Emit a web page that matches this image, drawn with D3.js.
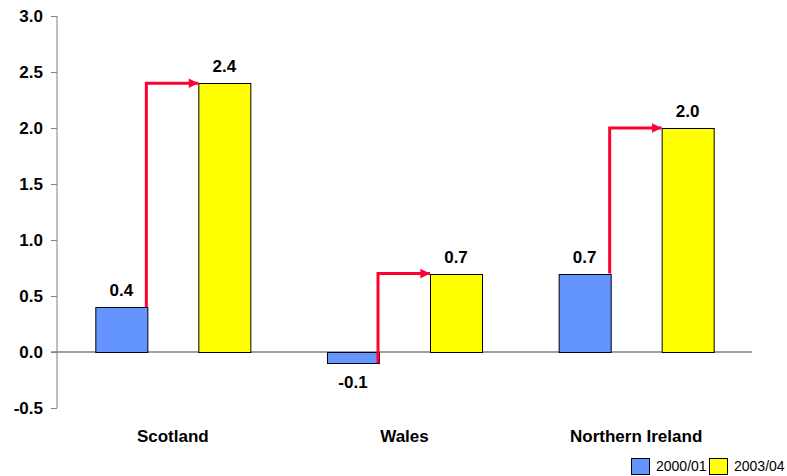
<!DOCTYPE html>
<html>
<head>
<meta charset="utf-8">
<script src="https://cdn.jsdelivr.net/npm/d3@7"></script>
<style>
  body { margin: 0; background: #fff; }
  svg { display: block; font-family: "Liberation Sans", Arial, sans-serif; }
</style>
</head>
<body>
<div id="chart"></div>
<script>
// chart data
const regions = ["Scotland", "Wales", "Northern Ireland"];
const years = ["2000/01", "2003/04"];
const values2000 = [0.4, -0.1, 0.7];
const values2003 = [2.4, 0.7, 2.0];
const yTicks = [-0.5, 0.0, 0.5, 1.0, 1.5, 2.0, 2.5, 3.0];

const width = 787;
const height = 476;
const colors = {"2000/01": "#6495ff", "2003/04": "#ffff00"};
const red = "#ff0033";

// plain hyphen for negatives, like the original
const fmt = v => d3.format(".1f")(v).replace("\u2212", "-");

const svg = d3.select("#chart")
  .append("svg")
  .attr("width", width)
  .attr("height", height);

// scales
const y = d3.scaleLinear()
  .domain([-0.5, 3.0])
  .range([408, 16]);

const x = d3.scaleBand()
  .domain(regions)
  .range([57, 752]);

const xSub = d3.scaleBand()
  .domain(years)
  .range([0, x.bandwidth()])
  .paddingInner(0.495)
  .paddingOuter(0.372);

// y axis
const yAxis = svg.append("g")
  .attr("transform", "translate(57,0)")
  .call(d3.axisLeft(y).tickValues(yTicks).tickFormat(fmt).tickSize(6).tickPadding(8));
yAxis.select(".domain").attr("stroke", "#808080").attr("d", `M0,${y(3)}V${y(-0.5)}`);
yAxis.selectAll(".tick line").attr("stroke", "#808080");
yAxis.selectAll(".tick text")
  .attr("font-size", 17)
  .attr("font-weight", "bold")
  .attr("font-family", "Liberation Sans, Arial, sans-serif")
  .attr("fill", "#000");

// zero line
svg.append("line")
  .attr("x1", 51).attr("x2", 752)
  .attr("y1", y(0)).attr("y2", y(0))
  .attr("stroke", "#808080")
  .attr("stroke-width", 1.5);

// bars
const rows = regions.map((r, i) => ({region: r, v: [
  {year: years[0], value: values2000[i]},
  {year: years[1], value: values2003[i]}
]}));

const groups = svg.selectAll(".grp")
  .data(rows)
  .enter()
  .append("g")
  .attr("class", "grp")
  .attr("transform", d => `translate(${x(d.region)},0)`);

groups.selectAll("rect")
  .data(d => d.v)
  .enter()
  .append("rect")
  .attr("x", d => xSub(d.year) + 0.5)
  .attr("y", d => Math.round(y(Math.max(0, d.value))) + 0.5)
  .attr("width", xSub.bandwidth())
  .attr("height", d => Math.round(Math.abs(y(d.value) - y(0))))
  .attr("fill", d => colors[d.year])
  .attr("stroke", "#000")
  .attr("stroke-width", 1);

// value labels
groups.selectAll(".val")
  .data(d => d.v)
  .enter()
  .append("text")
  .attr("class", "val")
  .attr("x", d => xSub(d.year) + xSub.bandwidth() / 2)
  .attr("y", d => d.value >= 0 ? y(d.value) - 11 : y(d.value) + 25)
  .attr("text-anchor", "middle")
  .attr("font-size", 17)
  .attr("font-weight", "bold")
  .text(d => fmt(d.value));

// arrows from 2000/01 to 2003/04
svg.append("defs").append("marker")
  .attr("id", "head")
  .attr("viewBox", "0 0 10 10")
  .attr("refX", 10).attr("refY", 5)
  .attr("markerWidth", 4).attr("markerHeight", 3.2)
  .attr("markerUnits", "strokeWidth")
  .attr("orient", "auto")
  .append("path")
  .attr("d", "M0,0L10,5L0,10Z")
  .attr("fill", red);

groups.append("path")
  .attr("d", (d, i) => {
    const ax = xSub(years[0]) + xSub.bandwidth() - 1;
    const tx = xSub(years[1]);
    return `M${ax},${y(values2000[i])}V${y(values2003[i])}H${tx}`;
  })
  .attr("fill", "none")
  .attr("stroke", red)
  .attr("stroke-width", 3)
  .attr("marker-end", "url(#head)");

// category labels
svg.selectAll(".cat")
  .data(regions)
  .enter()
  .append("text")
  .attr("class", "cat")
  .attr("x", d => x(d) + x.bandwidth() / 2)
  .attr("y", 442)
  .attr("text-anchor", "middle")
  .attr("font-size", 17)
  .attr("font-weight", "bold")
  .text(d => d);

// legend
const legend = svg.append("g").attr("transform", "translate(631,458)");
const legX = [0, 78];
years.forEach((yr, i) => {
  legend.append("rect")
    .attr("x", legX[i] + 0.5).attr("y", 0.5)
    .attr("width", 18).attr("height", 16)
    .attr("fill", colors[yr])
    .attr("stroke", "#000");
  legend.append("text")
    .attr("x", legX[i] + 25)
    .attr("y", 13)
    .attr("font-size", 14)
    .text(yr);
});
</script>
</body>
</html>
